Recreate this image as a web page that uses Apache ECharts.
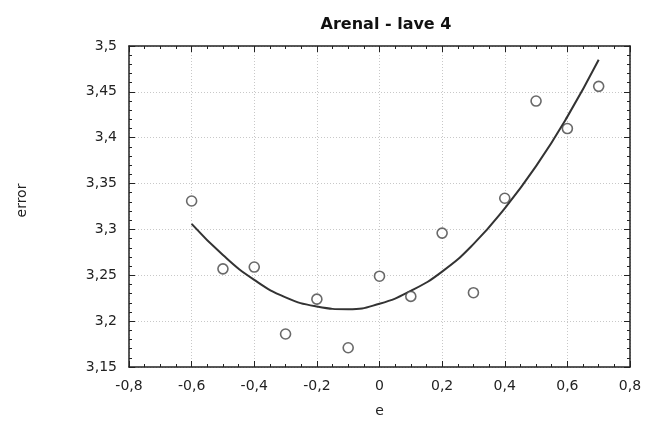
<!DOCTYPE html>
<html>
<head>
<meta charset="utf-8">
<script src="https://cdn.jsdelivr.net/npm/echarts@6/dist/echarts.min.js"></script>
<style>
html,body{margin:0;padding:0;background:#fff;}
#chart{width:646px;height:426px;}
</style>
</head>
<body>
<div id="chart"></div>
<script>
// measured points (e, error)
var ePoints = [-0.6, -0.5, -0.4, -0.3, -0.2, -0.1, 0, 0.1, 0.2, 0.3, 0.4, 0.5, 0.6, 0.7];
var errPoints = [3.331, 3.257, 3.259, 3.186, 3.224, 3.171, 3.249, 3.227, 3.296, 3.231, 3.334, 3.440, 3.410, 3.456];

// fitted curve
var eCurve = [-0.6, -0.5, -0.4, -0.3, -0.2, -0.1, 0, 0.1, 0.2, 0.3, 0.4, 0.5, 0.6, 0.7];
var errCurve = [3.306, 3.272, 3.245, 3.226, 3.216, 3.213, 3.219, 3.233, 3.254, 3.284, 3.323, 3.369, 3.423, 3.485];

var fontName = "DejaVu Sans";
function comma(v){ return String(Math.round(v*1000)/1000).replace('.', ','); }

var chartView = echarts.init(document.getElementById('chart'), null, {renderer:'canvas'});

var tickCommon = {show:true, inside:true, length:6, lineStyle:{color:'#222', width:1}};
var minorCommon = {show:true, length:3, lineStyle:{color:'#222', width:1}};
var gridLine = {show:true, lineStyle:{color:'#c8c8c8', type:[1,2], width:1}};

var option = {
    backgroundColor:'#fff',
    animation:false,
    title:{
        text:'Arenal - lave 4',
        left:381, top:12, textAlign:'center',
        textStyle:{fontFamily:fontName, fontSize:16, fontWeight:'bold', color:'#111'}
    },
    grid:{left:129, right:16, top:46, bottom:59, containLabel:false},
    xAxis:[{
        type:'value', min:-0.8, max:0.8, interval:0.2,
        name:'e', nameLocation:'middle', nameGap:37,
        nameTextStyle:{fontFamily:fontName, fontSize:14, color:'#222'},
        axisLine:{show:true, onZero:false, lineStyle:{color:'#222', width:1.5}},
        axisTick:tickCommon,
        minorTick:Object.assign({splitNumber:4}, minorCommon),
        axisLabel:{fontFamily:fontName, fontSize:14, color:'#222', margin:12, formatter:comma},
        splitLine:gridLine
    },{
        type:'value', min:-0.8, max:0.8, interval:0.2, position:'top',
        axisLine:{show:true, onZero:false, lineStyle:{color:'#222', width:1.5}},
        axisTick:tickCommon,
        minorTick:Object.assign({splitNumber:4}, minorCommon),
        axisLabel:{show:false}, splitLine:{show:false}
    }],
    yAxis:[{
        type:'value', min:3.15, max:3.5, interval:0.05,
        name:'error', nameLocation:'middle', nameGap:100, nameRotate:90,
        nameTextStyle:{fontFamily:fontName, fontSize:14, color:'#222', padding:[0,0,0,12]},
        axisLine:{show:true, onZero:false, lineStyle:{color:'#222', width:1.5}},
        axisTick:tickCommon,
        minorTick:Object.assign({splitNumber:5}, minorCommon),
        axisLabel:{fontFamily:fontName, fontSize:14, color:'#222', margin:12, formatter:comma},
        splitLine:gridLine
    },{
        type:'value', min:3.15, max:3.5, interval:0.05, position:'right',
        axisLine:{show:true, onZero:false, lineStyle:{color:'#222', width:1.5}},
        axisTick:tickCommon,
        minorTick:Object.assign({splitNumber:5}, minorCommon),
        axisLabel:{show:false}, splitLine:{show:false}
    }],
    series:[{
        type:'line', name:'fit',
        data:eCurve.map(function(x,i){ return [x, errCurve[i]]; }),
        smooth:true, showSymbol:false, symbol:'none',
        lineStyle:{color:'#333', width:2}, z:2
    },{
        type:'scatter', name:'points',
        data:ePoints.map(function(x,i){ return [x, errPoints[i]]; }),
        symbol:'circle', symbolSize:10,
        itemStyle:{color:'#fff', borderColor:'#444', borderWidth:1.6}, z:3
    }]
};
chartView.setOption(option);
</script>
</body>
</html>
